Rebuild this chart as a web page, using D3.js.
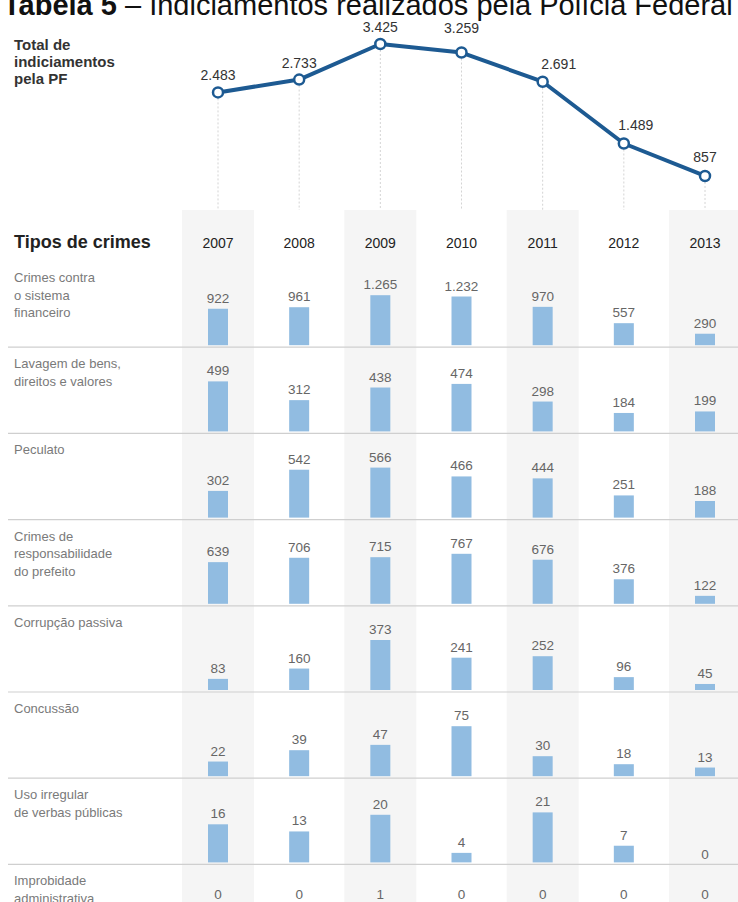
<!DOCTYPE html>
<html>
<head>
<meta charset="utf-8">
<script src="https://cdn.jsdelivr.net/npm/d3@7"></script>
<style>
    body { margin: 0; background: #fff; }
    svg text { font-family: "Liberation Sans", Arial, sans-serif; }
</style>
</head>
<body>
<div id="chart"></div>
<script>
    // -------------------------------------
    // Data
    // -------------------------------------
    var years = ['2007', '2008', '2009', '2010', '2011', '2012', '2013']
    var totals = [2483, 2733, 3425, 3259, 2691, 1489, 857]

    var crimeTypes = [
        ['Crimes contra', 'o sistema', 'financeiro'],
        ['Lavagem de bens,', 'direitos e valores'],
        ['Peculato'],
        ['Crimes de', 'responsabilidade', 'do prefeito'],
        ['Corrupção passiva'],
        ['Concussão'],
        ['Uso irregular', 'de verbas públicas'],
        ['Improbidade', 'administrativa']
    ]
    var sistemaFinanceiro = [922, 961, 1265, 1232, 970, 557, 290]
    var lavagem = [499, 312, 438, 474, 298, 184, 199]
    var peculato = [302, 542, 566, 466, 444, 251, 188]
    var responsabilidadePrefeito = [639, 706, 715, 767, 676, 376, 122]
    var corrupcaoPassiva = [83, 160, 373, 241, 252, 96, 45]
    var concussao = [22, 39, 47, 75, 30, 18, 13]
    var usoIrregular = [16, 13, 20, 4, 21, 7, 0]
    var improbidade = [0, 0, 1, 0, 0, 0, 0]
    var rowValues = [sistemaFinanceiro, lavagem, peculato, responsabilidadePrefeito,
        corrupcaoPassiva, concussao, usoIrregular, improbidade]

    // label nudges for the total line (annotation placement only)
    var labelNudge = [[0, -12], [0, -12], [0, -12], [0, -20], [16, -13], [12, -13], [0, -14]]

    var fmt = d3.formatLocale({ decimal: ',', thousands: '.', grouping: [3], currency: ['', ''] }).format(',d')

    // -------------------------------------
    // Layout
    // -------------------------------------
    var width = 738, height = 902
    var lineColor = '#1d5a92'
    var barColor = '#91bce1'
    var shadeTop = 210
    var firstRowTop = 261
    var rowHeight = 86.2
    var barMax = 50

    var svg = d3.select('#chart').append('svg')
        .attr('width', width)
        .attr('height', height)

    svg.append('rect').attr('width', width).attr('height', height).attr('fill', '#fff')

    var x = d3.scalePoint().domain(years).range([218, 705])
    var y = d3.scaleLinear().domain([0, d3.max(totals)]).range([220, 44])

    // shaded columns
    svg.selectAll('.shade')
        .data(years.filter((d, i) => i % 2 === 0))
        .enter().append('rect')
        .attr('class', 'shade')
        .attr('x', d => x(d) - 36)
        .attr('y', shadeTop)
        .attr('width', 72)
        .attr('height', height - shadeTop)
        .attr('fill', '#f5f5f5')

    // title (cut off at the top edge, as in the scan)
    var title = svg.append('text')
        .attr('x', 3)
        .attr('y', 14.5)
        .attr('font-size', 29)
        .attr('fill', '#111')
    title.append('tspan').attr('font-weight', 'bold').text('Tabela 5')
    title.append('tspan').text(' – Indiciamentos realizados pela Polícia Federal')

    // left header of the line chart
    svg.append('g').selectAll('text')
        .data(['Total de', 'indiciamentos', 'pela PF'])
        .enter().append('text')
        .attr('x', 14)
        .attr('y', (d, i) => 50 + i * 17)
        .attr('font-size', 15)
        .attr('font-weight', 'bold')
        .attr('fill', '#333')
        .text(d => d)

    // -------------------------------------
    // Total line
    // -------------------------------------
    svg.append('g').selectAll('line')
        .data(totals)
        .enter().append('line')
        .attr('x1', (d, i) => x(years[i]))
        .attr('x2', (d, i) => x(years[i]))
        .attr('y1', d => y(d) + 6)
        .attr('y2', shadeTop)
        .attr('stroke', '#d4d4d4')
        .attr('stroke-dasharray', '2,2')

    svg.append('path')
        .datum(totals)
        .attr('fill', 'none')
        .attr('stroke', lineColor)
        .attr('stroke-width', 4)
        .attr('stroke-linejoin', 'round')
        .attr('d', d3.line()
            .x((d, i) => x(years[i]))
            .y(d => y(d)))

    svg.append('g').selectAll('circle')
        .data(totals)
        .enter().append('circle')
        .attr('cx', (d, i) => x(years[i]))
        .attr('cy', d => y(d))
        .attr('r', 5)
        .attr('fill', '#fff')
        .attr('stroke', lineColor)
        .attr('stroke-width', 2.5)

    svg.append('g').selectAll('text')
        .data(totals)
        .enter().append('text')
        .attr('x', (d, i) => x(years[i]) + labelNudge[i][0])
        .attr('y', (d, i) => y(d) + labelNudge[i][1])
        .attr('text-anchor', 'middle')
        .attr('font-size', 14)
        .attr('fill', '#333')
        .text(d => fmt(d))

    // -------------------------------------
    // Table header
    // -------------------------------------
    svg.append('text')
        .attr('x', 14)
        .attr('y', 248)
        .attr('font-size', 18)
        .attr('font-weight', 'bold')
        .attr('fill', '#222')
        .text('Tipos de crimes')

    svg.append('g').selectAll('text')
        .data(years)
        .enter().append('text')
        .attr('x', d => x(d))
        .attr('y', 248)
        .attr('text-anchor', 'middle')
        .attr('font-size', 14)
        .attr('fill', '#222')
        .text(d => d)

    // -------------------------------------
    // Rows of bars
    // -------------------------------------
    rowValues.forEach(function (values, r) {
        var top = firstRowTop + r * rowHeight
        var last = r === rowValues.length - 1
        // the last row is cut off by the bottom edge, its bars fall below it
        var base = last ? height + 3 : top + rowHeight - 2
        var maxH = last ? 2 : barMax
        var h = d3.scaleLinear().domain([0, d3.max(values)]).range([0, maxH])
        var g = svg.append('g')

        if (!last) {
            g.append('line')
                .attr('x1', 8).attr('x2', width)
                .attr('y1', top + rowHeight).attr('y2', top + rowHeight)
                .attr('stroke', '#cfcfcf')
                .attr('stroke-width', 1.2)
        }

        g.selectAll('.cat')
            .data(crimeTypes[r])
            .enter().append('text')
            .attr('class', 'cat')
            .attr('x', 14)
            .attr('y', (d, i) => top + 21 + i * 17.5)
            .attr('font-size', 13)
            .attr('fill', '#7a7a7a')
            .text(d => d)

        g.selectAll('.bar')
            .data(values)
            .enter().append('rect')
            .attr('class', 'bar')
            .attr('x', (d, i) => x(years[i]) - 10)
            .attr('y', d => base - h(d))
            .attr('width', 20)
            .attr('height', d => h(d))
            .attr('fill', barColor)

        g.selectAll('.val')
            .data(values)
            .enter().append('text')
            .attr('class', 'val')
            .attr('x', (d, i) => x(years[i]))
            .attr('y', d => last ? base - 6 : base - h(d) - (d > 0 ? 6 : 3))
            .attr('text-anchor', 'middle')
            .attr('font-size', 13.5)
            .attr('fill', '#666')
            .text(d => fmt(d))
    })
</script>
</body>
</html>
